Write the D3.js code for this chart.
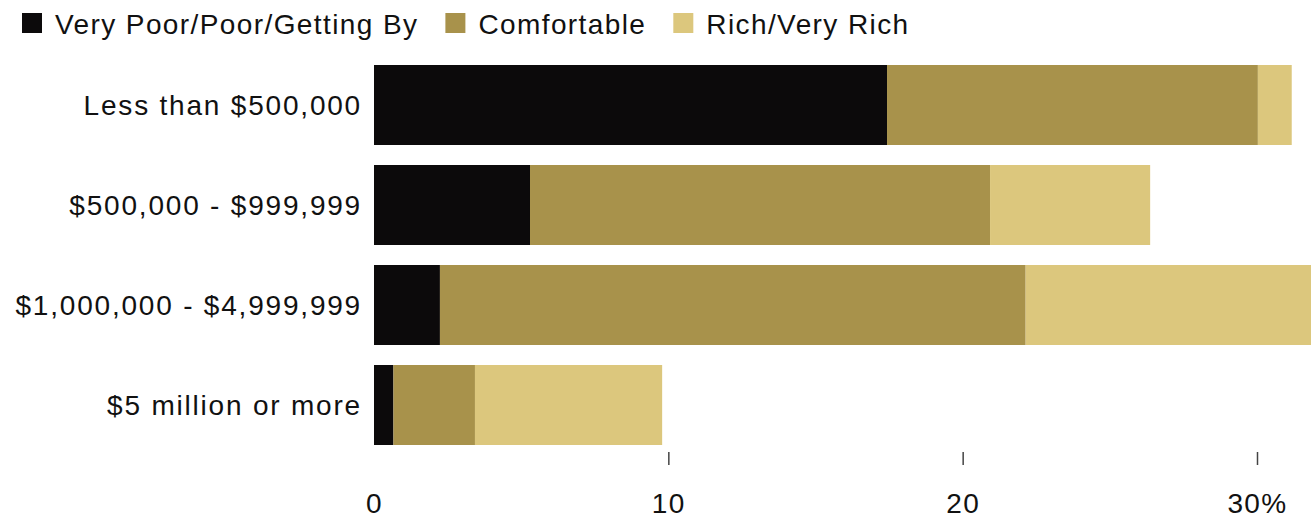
<!DOCTYPE html>
<html><head><meta charset="utf-8">
<script src="https://cdn.jsdelivr.net/npm/d3@7"></script>
<style>
html,body{margin:0;padding:0;background:#fff;}
text{font-family:"Liberation Sans",Arial,sans-serif;font-size:28px;fill:#111;letter-spacing:1.4px;}
text.cat{letter-spacing:1.8px;}
</style></head>
<body>
<svg id="chart" width="1311" height="519"></svg>
<script>
const categories = ["Less than $500,000", "$500,000 - $999,999", "$1,000,000 - $4,999,999", "$5 million or more"];
const seriesNames = ["Very Poor/Poor/Getting By", "Comfortable", "Rich/Very Rich"];
const poorValues = [17.43, 5.3, 2.24, 0.66];
const comfortableValues = [12.6, 15.63, 19.9, 2.77];
const richValues = [1.15, 5.44, 9.7, 6.36];
const tickValues = [0, 10, 20, 30];
const tickLabels = ["0", "10", "20", "30%"];
const colors = ["#0c0a0b", "#a8924b", "#dcc77d"];

const rows = categories.map((c, i) => ({cat: c, p: poorValues[i], c: comfortableValues[i], r: richValues[i]}));
const stack = d3.stack().keys(["p", "c", "r"])(rows);

const svg = d3.select("#chart");
const x = d3.scaleLinear().domain([0, 30]).range([374, 1257]);
const y = d3.scaleBand().domain(categories).range([55, 455]).paddingInner(0.2).paddingOuter(0.1);

svg.append("g").selectAll("g").data(stack).join("g")
  .attr("fill", (d, i) => colors[i])
  .selectAll("rect").data(d => d).join("rect")
  .attr("x", d => x(d[0]))
  .attr("width", d => x(d[1]) - x(d[0]))
  .attr("y", d => y(d.data.cat))
  .attr("height", y.bandwidth());

// category labels
svg.append("g").selectAll("text").data(categories).join("text")
  .attr("class", "cat")
  .attr("x", 362).attr("y", d => y(d) + y.bandwidth() / 2)
  .attr("dy", "0.36em").attr("text-anchor", "end").text(d => d);

// x axis
const axis = d3.axisBottom(x).tickValues(tickValues).tickSize(0).tickPadding(0)
  .tickFormat((d, i) => tickLabels[i]);
const ax = svg.append("g").call(axis);
ax.select(".domain").remove();
ax.selectAll(".tick text").attr("y", 513).attr("dy", null)
  .attr("fill", "#111");
ax.attr("font-size", null).attr("font-family", null);
ax.selectAll(".tick").filter(d => d !== 0).append("line")
  .attr("y1", 452).attr("y2", 465).attr("stroke", "#444").attr("stroke-width", 1.5);

// legend
const leg = svg.append("g");
let lx = 22;
seriesNames.forEach((name, i) => {
  leg.append("rect").attr("x", lx).attr("y", 13).attr("width", 20).attr("height", 20).attr("fill", colors[i]);
  const t = leg.append("text").attr("x", lx + 33).attr("y", 34).text(name);
  lx += 33 + t.node().getComputedTextLength() + 27;
});
</script>
</body></html>
